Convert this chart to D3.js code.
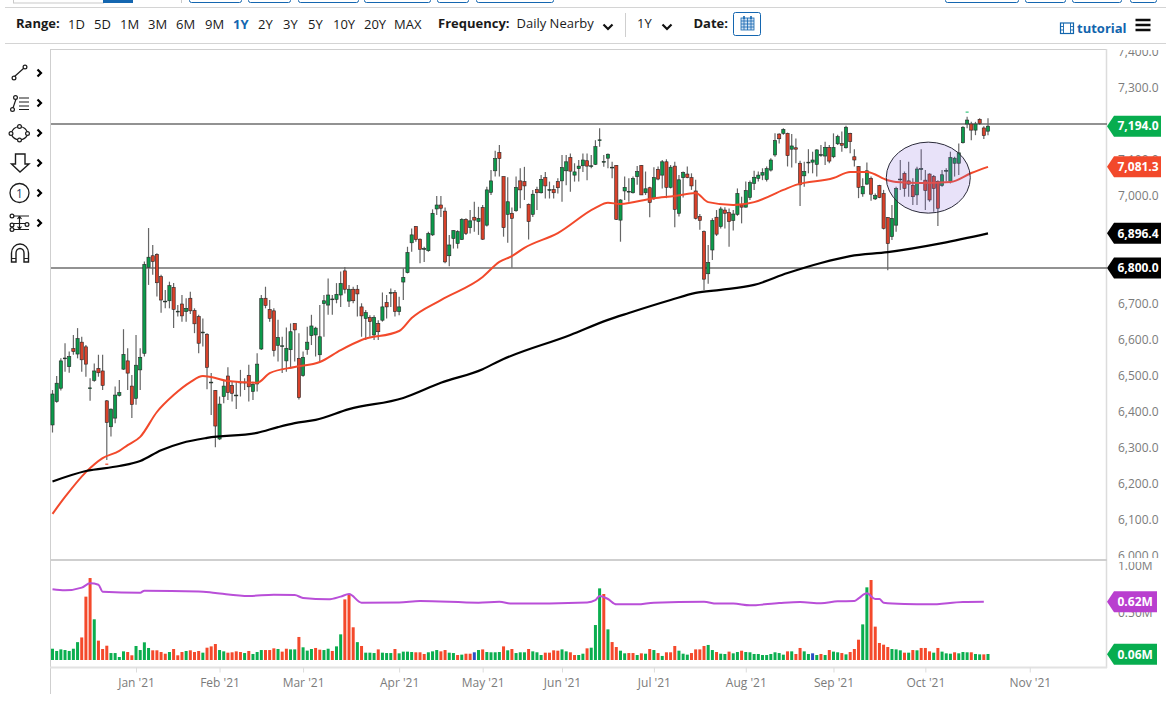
<!DOCTYPE html>
<html>
<head>
<meta charset="utf-8">
<script src="https://cdn.jsdelivr.net/npm/d3@7"></script>
<style>
  html, body { margin: 0; padding: 0; background: #fff; overflow: hidden; }
  svg { display: block; }
  text { font-family: "Open Sans", sans-serif; }
  .axis text { fill: #7b7b7b; font-size: 12px; font-family: "Open Sans", sans-serif; }
  .bar-label { font-size: 13px; fill: #1a1a1a; }
  .bold { font-weight: 700; }
</style>
</head>
<body>
<div id="chart"></div>
<script>
// --- OHLC, one value per session ---
const opens = [
  6364,6429,6466,6548,6526,6576,6561,6594,6581,6465,
  6488,6521,6514,6431,6359,6383,6446,6519,6542,6472,
  6438,6517,6563,6802,6834,6838,6776,6706,6709,6746,
  6678,6700,6679,6716,6682,6665,6620,6616,6481,6460,
  6325,6443,6500,6474,6445,6481,6481,6502,6457,6478,
  6575,6716,6685,6681,6585,6582,6542,6573,6646,6549,
  6501,6574,6612,6614,6559,6701,6697,6712,6713,6725,
  6792,6708,6741,6741,6692,6660,6663,6614,6646,6655,
  6704,6730,6732,6679,6761,6787,6870,6915,6880,6852,
  6848,6892,6964,6975,6958,6834,6882,6868,6879,6935,
  6912,6941,6929,6968,6919,7010,7070,7121,7054,6949,
  6952,6959,7042,7040,6977,6949,7018,7009,7051,7016,
  7018,7040,7042,7070,7107,7058,7076,7084,7098,7082,
  7088,7154,7094,7105,7078,7085,6933,7014,7011,7009,
  7054,7085,7009,7023,6994,7074,7058,7095,7024,7083,
  6952,7051,7061,7051,7014,6943,6901,6784,6850,6941,
  6915,6961,6954,6932,6949,6975,6969,6996,7035,7049,
  7058,7046,7072,7114,7172,7174,7174,7130,7134,7091,
  7056,7092,7094,7088,7113,7111,7135,7109,7145,7146,
  7134,7174,7109,7082,7006,7033,7049,6992,7029,7007,
  6940,6887,6919,7045,7063,7042,7030,7003,7074,7044,
  7061,7054,7040,7029,7069,7040,7091,7091,7148,7200,
  7200,7183,7213,7189,7180
];
const highs = [
  6461,6500,6549,6591,6568,6614,6633,6609,6586,6494,
  6535,6559,6559,6433,6410,6471,6489,6630,6577,6503,
  6614,6577,6818,6911,6864,6841,6781,6739,6762,6758,
  6697,6725,6716,6734,6688,6670,6660,6619,6508,6461,
  6443,6489,6524,6484,6484,6517,6494,6531,6484,6563,
  6725,6748,6711,6688,6656,6609,6635,6646,6646,6619,
  6568,6637,6670,6637,6697,6725,6771,6725,6758,6790,
  6803,6753,6748,6753,6702,6683,6669,6669,6655,6732,
  6725,6743,6739,6720,6799,6859,6910,6917,6882,6859,
  6901,6963,7000,7000,6968,6892,6905,6905,6938,6938,
  6961,6984,6970,6975,7026,7072,7126,7142,7054,7052,
  6968,7054,7077,7081,6979,7017,7026,7058,7067,7040,
  7030,7049,7114,7114,7118,7091,7100,7118,7118,7114,
  7155,7188,7114,7118,7095,7086,6991,7054,7049,7054,
  7083,7086,7068,7026,7080,7082,7100,7102,7086,7095,
  7058,7068,7082,7063,7045,6950,6904,6864,6938,6961,
  6970,6969,6965,6961,7021,6998,7040,7043,7070,7068,
  7077,7082,7105,7174,7174,7188,7176,7172,7160,7098,
  7095,7130,7123,7130,7142,7151,7142,7174,7170,7179,
  7195,7176,7130,7083,7049,7093,7054,7007,7031,7017,
  6942,6975,7026,7100,7068,7095,7049,7081,7130,7072,
  7063,7058,7044,7072,7077,7123,7109,7146,7194,7220,
  7206,7206,7216,7194,7216
];
const lows = [
  6343,6426,6460,6512,6509,6559,6549,6512,6498,6431,
  6484,6498,6461,6267,6332,6369,6443,6517,6461,6383,
  6420,6461,6554,6753,6781,6721,6676,6688,6688,6633,
  6665,6651,6651,6672,6619,6563,6582,6463,6392,6302,
  6322,6424,6433,6429,6408,6443,6461,6429,6433,6457,
  6572,6688,6651,6554,6540,6508,6512,6521,6540,6435,
  6498,6559,6586,6554,6540,6609,6670,6670,6702,6692,
  6729,6692,6702,6665,6609,6600,6609,6600,6600,6651,
  6660,6692,6665,6669,6711,6785,6845,6873,6813,6817,
  6845,6889,6947,6942,6813,6805,6854,6854,6878,6892,
  6896,6901,6892,6878,6915,7003,7054,7054,6887,6870,
  6801,6956,6966,6989,6879,6942,6961,7007,6993,6993,
  6993,7007,6984,7030,7012,7040,7040,7067,7044,7077,
  7086,7137,7081,7077,7049,6933,6873,6989,6984,7007,
  7031,7003,7003,6941,6989,7044,7021,6994,7021,6913,
  6943,6996,7049,7017,6935,6906,6739,6756,6822,6889,
  6910,6910,6859,6904,6945,6924,6968,6989,7017,7040,
  7044,7040,7068,7109,7146,7170,7082,7079,7091,6972,
  7026,7063,7063,7054,7109,7086,7091,7105,7142,7123,
  7132,7119,7082,6994,6998,7031,6987,6989,6994,6907,
  6794,6878,6901,7017,6998,6998,6975,6975,7044,6961,
  6984,6956,6917,7026,7040,7035,7054,7058,7146,7188,
  7155,7169,7197,7158,7169
];
const closes = [
  6450,6480,6542,6550,6554,6568,6604,6545,6533,6467,
  6514,6509,6474,6371,6408,6447,6454,6560,6508,6421,
  6530,6552,6810,6830,6818,6759,6711,6708,6751,6685,
  6680,6667,6688,6681,6645,6591,6622,6524,6483,6361,
  6422,6472,6454,6452,6447,6483,6483,6470,6477,6533,
  6715,6696,6660,6571,6607,6584,6577,6623,6628,6440,
  6552,6594,6639,6633,6609,6709,6725,6714,6727,6757,
  6741,6741,6709,6728,6667,6676,6651,6663,6623,6692,
  6692,6732,6679,6692,6774,6843,6892,6879,6852,6854,
  6896,6952,6975,6966,6817,6864,6904,6901,6935,6896,
  6931,6933,6938,6880,7017,7042,7104,7104,6912,6984,
  6938,7024,7017,7028,6929,7005,7009,7046,7028,7018,
  7009,7023,7079,7095,7069,7067,7083,7100,7083,7084,
  7137,7156,7096,7116,7080,6935,6989,7024,7013,7049,
  7068,7003,7020,6982,7051,7047,7095,7024,7080,6963,
  7045,7065,7051,7028,6938,6932,6769,6815,6932,6894,
  6964,6952,6929,6950,7007,6969,7015,7037,7052,7058,
  7065,7076,7100,7154,7159,7185,7112,7139,7130,7031,
  7068,7094,7100,7128,7115,7135,7097,7135,7165,7141,
  7191,7151,7100,7024,7026,7070,7005,7001,6996,6910,
  6868,6938,7021,7047,7021,7033,6998,7075,7076,7015,
  6989,7021,6966,7059,7071,7107,7105,7120,7191,7211,
  7183,7200,7202,7168,7194
];

// volume in millions, and bar colour g / r / b per session
const volumes = [
  .12,.096,.113,.106,.096,.12,.19,.24,.674,.872,
  .433,.206,.117,.152,.074,.074,.032,.092,.085,.05,
  .149,.106,.188,.128,.103,.103,.085,.067,.085,.117,
  .05,.085,.096,.103,.085,.096,.078,.131,.145,.17,
  .106,.092,.078,.082,.092,.085,.074,.096,.064,.085,
  .106,.106,.106,.124,.117,.089,.12,.113,.113,.245,
  .135,.1,.117,.128,.11,.106,.12,.096,.145,.273,
  .645,.695,.348,.19,.149,.078,.078,.074,.113,.078,
  .074,.074,.117,.071,.089,.089,.085,.082,.082,.064,
  .082,.092,.106,.092,.106,.078,.074,.053,.057,.067,
  .067,.082,.106,.113,.085,.082,.082,.085,.145,.103,
  .117,.074,.082,.082,.117,.092,.082,.053,.078,.078,
  .103,.099,.113,.092,.082,.053,.053,.067,.124,.131,
  .372,.762,.702,.326,.191,.138,.099,.071,.074,.074,
  .053,.071,.067,.117,.106,.074,.043,.082,.082,.149,
  .099,.067,.057,.074,.113,.113,.149,.16,.106,.085,
  .067,.064,.089,.071,.085,.099,.085,.082,.064,.064,
  .053,.053,.064,.082,.074,.057,.092,.092,.064,.128,
  .092,.064,.071,.053,.064,.053,.106,.089,.082,.074,
  .06,.085,.117,.216,.379,.773,.851,.355,.181,.163,
  .138,.117,.113,.103,.078,.078,.106,.103,.128,.128,
  .092,.078,.128,.089,.071,.067,.082,.071,.085,.082,
  .082,.064,.06,.06,.064
];
const volumeDirs = (
  "gggggggrrr" + "grrrggggrr" + "ggggrrrrgr" + "rrgrrrgrrr" + "ggrrrrgrgg" +
  "grrrgrrggr" + "gggrrggrgg" + "rrrgrgggrg" + "ggrg" + "gggrrr" +
  "gggrrggrgr" + "rbgrggggrg" + "rgggrgggrr" + "rrggrrggrg" + "ggrgrrggrr" +
  "grgrgrgrrr" + "gggrrrrggr" + "ggrggrgggg" + "ggggggrgrr" +
  "ggbgrgrggr" + "grrrggrrrr" + "rgggrgrgrr" + "rgrgggrggg" + "rggrg"
).split("");

// moving averages, read at these sessions
const ma50Sessions = [0,3,8,12,16,18,21,25,29,33,36,38,42,49,52,58,64,69,74,83,86,93,103,107,110,113,121,130,133,136,144,149,154,157,163,168,175,178,187,191,195,200,202,208,215,220,224];
const ma50Values = [6117,6164,6233,6272,6292,6308,6331,6400,6447,6483,6500,6497,6486,6481,6508,6525,6539,6572,6600,6625,6661,6711,6775,6817,6833,6856,6897,6967,6981,6978,6994,7000,7008,6983,6975,6983,7017,7031,7050,7067,7067,7044,7039,7036,7039,7064,7081];
const ma200Sessions = [0,8,16,21,26,31,37,49,54,58,63,71,84,93,103,107,124,133,138,148,154,160,168,176,184,191,200,213,224];
const ma200Values = [6207,6236,6250,6264,6294,6314,6328,6342,6358,6369,6378,6408,6439,6481,6519,6542,6614,6656,6675,6711,6731,6739,6753,6786,6814,6833,6844,6869,6896];
const volMaSessions = [0,3,7,9,11,12,21,22,35,39,47,53,58,60,66,69,71,74,83,88,102,107,110,128,130,131,133,135,140,144,156,159,163,167,174,179,184,188,192,193,195,197,198,199,204,210,218,223];
const volMaValues = [.752,.741,.77,.816,.801,.727,.716,.738,.73,.713,.681,.695,.691,.66,.645,.674,.702,.61,.613,.628,.61,.62,.6,.613,.638,.681,.649,.592,.592,.61,.62,.6,.6,.582,.606,.617,.603,.624,.628,.656,.709,.649,.649,.61,.596,.592,.617,.62];

// axes
const priceTicks = [7400,7300,7200,7100,7000,6900,6800,6700,6600,6500,6400,6300,6200,6100,6000];
const volumeTicks = [1, 0.5];
const monthSessions = [20,40,60,83,103,122,144,166,187,209,234];
const monthLabels = ["Jan '21","Feb '21","Mar '21","Apr '21","May '21","Jun '21","Jul '21","Aug '21","Sep '21","Oct '21","Nov '21"];

// drawn annotations
const levelPrices = [7200, 6800];
const circleSession = 209.7, circlePrice = 7051;
const priceTags = [[7194, "7,194.0", "#07ad4f"], [7081.3, "7,081.3", "#f2492b"], [6896.4, "6,896.4", "#000"], [6800, "6,800.0", "#000"]];
const volumeTags = [[0.62, "0.62M", "#b93fcf"], [0.06, "0.06M", "#07ad4f"]];

const W = 1166, H = 704;
const x = d3.scaleLinear().domain([0, 224]).range([52.5, 988]);
const y = d3.scaleLinear().domain([6000, 7400]).range([556, 52]);
const v = d3.scaleLinear().domain([0, 1]).range([660, 566]);

const svg = d3.select("#chart").append("svg").attr("width", W).attr("height", H);
const defs = svg.append("defs");
defs.append("clipPath").attr("id", "pricePane").append("rect").attr("x", 0).attr("y", 50).attr("width", W).attr("height", 508);
defs.append("clipPath").attr("id", "volPane").append("rect").attr("x", 0).attr("y", 562).attr("width", W).attr("height", 110);

// --- frame ---
const frame = svg.append("g").attr("stroke", "#cfcfcf").attr("fill", "none");
frame.append("path").attr("d", "M50.5,49.5H1107").attr("stroke-width", 1);
frame.append("path").attr("d", "M50.5,49V694").attr("stroke-width", 1);
frame.append("path").attr("d", "M1106.5,49V668").attr("stroke", "#dcdcdc").attr("stroke-width", 1.5);
frame.append("path").attr("d", "M50,560H1107").attr("stroke-width", 2);

// --- axes ---
const priceAxis = svg.append("g").attr("class", "axis").attr("clip-path", "url(#pricePane)")
  .append("g").attr("transform", "translate(1107,0)")
  .call(d3.axisRight(y).tickValues(priceTicks).tickSize(0).tickPadding(11).tickFormat(d3.format(",.1f")));
priceAxis.select(".domain").remove();

const volAxis = svg.append("g").attr("class", "axis").attr("clip-path", "url(#volPane)")
  .append("g").attr("transform", "translate(1107,0)")
  .call(d3.axisRight(v).tickValues(volumeTicks).tickSize(0).tickPadding(11).tickFormat(d => d.toFixed(2) + "M"));
volAxis.select(".domain").remove();

const timeAxis = svg.append("g").attr("class", "axis").attr("transform", "translate(0,667.5)")
  .call(d3.axisBottom(x).tickValues(monthSessions).tickSize(5).tickPadding(6).tickFormat((d, i) => monthLabels[i]));
timeAxis.select(".domain").attr("d", "M50,0H1107").attr("stroke", "#e2e2e2").attr("stroke-width", 2);
timeAxis.selectAll(".tick line").attr("stroke", "#dcdcdc");

// --- price pane ---
const pane = svg.append("g").attr("clip-path", "url(#pricePane)");

pane.selectAll(".level").data(levelPrices).enter().append("line")
  .attr("class", "level")
  .attr("x1", 51).attr("x2", 1107)
  .attr("y1", d => y(d)).attr("y2", d => y(d))
  .attr("stroke", "#6e6e6e").attr("stroke-width", 1.5);

const lineThrough = (scale, sessions) => d3.line()
  .x((d, i) => x(sessions[i]))
  .y(d => scale(d))
  .curve(d3.curveMonotoneX);

const sessions = d3.range(opens.length);

pane.selectAll(".wick").data(sessions).enter().append("line")
  .attr("class", "wick")
  .attr("x1", i => x(i)).attr("x2", i => x(i))
  .attr("y1", i => y(highs[i])).attr("y2", i => y(lows[i]))
  .attr("stroke", "#666").attr("stroke-width", 1.2);

pane.selectAll(".body").data(sessions).enter().append("rect")
  .attr("class", "body")
  .attr("x", i => x(i) - 1.6).attr("width", 3.2)
  .attr("y", i => y(Math.max(opens[i], closes[i])))
  .attr("height", i => Math.max(0.8, Math.abs(y(opens[i]) - y(closes[i]))))
  .attr("fill", i => closes[i] >= opens[i] ? "#0c9a4b" : "#d8412a")
  .attr("stroke", "#262626").attr("stroke-width", 0.6);

pane.append("path").datum(ma50Values)
  .attr("d", lineThrough(y, ma50Sessions))
  .attr("fill", "none").attr("stroke", "#f2492b").attr("stroke-width", 2);
pane.append("path").datum(ma200Values)
  .attr("d", lineThrough(y, ma200Sessions))
  .attr("fill", "none").attr("stroke", "#000").attr("stroke-width", 2.2);

pane.append("ellipse")
  .attr("cx", x(circleSession)).attr("cy", y(circlePrice))
  .attr("rx", 42).attr("ry", 35.5)
  .attr("fill", "#8a6fe0").attr("fill-opacity", 0.2)
  .attr("stroke", "#2b2b3a").attr("stroke-width", 1);

// tiny high / low markers on the extremes of the shown range
pane.append("line").attr("x1", x(219) - 1.5).attr("x2", x(219) + 1.5).attr("y1", y(7233)).attr("y2", y(7233)).attr("stroke", "#35c47c").attr("stroke-width", 1.2);
pane.append("line").attr("x1", x(13) - 1.5).attr("x2", x(13) + 1.5).attr("y1", y(6255)).attr("y2", y(6255)).attr("stroke", "#f2492b").attr("stroke-width", 1.2);

// --- volume pane ---
const volColor = { g: "#0bae4f", r: "#f4492b", b: "#2b4fc4" };
svg.append("g").selectAll("rect").data(volumes).enter().append("rect")
  .attr("x", (d, i) => x(i) - 1.5).attr("width", 3)
  .attr("y", d => v(d)).attr("height", d => v(0) - v(d))
  .attr("fill", (d, i) => volColor[volumeDirs[i]]);

svg.append("path").datum(volMaValues)
  .attr("d", lineThrough(v, volMaSessions))
  .attr("fill", "none").attr("stroke", "#b94fd8").attr("stroke-width", 2);

// --- value tags on the right axis ---
function drawTag(cy, label, color, right) {
  const g = svg.append("g").attr("transform", `translate(0,${cy})`);
  g.append("path")
    .attr("d", `M1107,0L1114,-10.5H${right}V10.5H1114Z`)
    .attr("fill", color);
  g.append("text").attr("x", 1117.5).attr("y", 0).attr("dy", "0.36em")
    .attr("fill", "#fff").attr("font-size", 12).attr("font-weight", 700).text(label);
}
priceTags.forEach(t => drawTag(y(t[0]), t[1], t[2], 1161));
volumeTags.forEach(t => drawTag(v(t[0]), t[1], t[2], 1157));

// --- top bar ---
const bar = svg.append("g");
bar.append("path").attr("d", "M5,7.5H1166M5,43.5H1166").attr("stroke", "#d4d4d4").attr("stroke-width", 1).attr("fill", "none");

// buttons cut off by the top of the window
bar.append("rect").attr("x", 13.5).attr("y", -10).attr("width", 90).attr("height", 13).attr("fill", "#fff").attr("stroke", "#c9c9c9");
bar.append("rect").attr("x", 103).attr("y", -10).attr("width", 30).attr("height", 13).attr("fill", "#1466b0");
bar.append("path").attr("d", "M181.5,0V3").attr("stroke", "#c9c9c9");
[[189, 52], [248, 42], [298, 60], [364, 66], [437, 31], [476, 77], [945, 73], [1025, 40], [1072, 49], [1130, 26]].forEach(b => {
  bar.append("rect").attr("x", b[0] + 0.5).attr("y", -10).attr("width", b[1]).attr("height", 12.5)
    .attr("rx", 2).attr("fill", "#fff").attr("stroke", "#1466b0");
});

const rangeLabels = ["1D","5D","1M","3M","6M","9M","1Y","2Y","3Y","5Y","10Y","20Y","MAX"];
const rangeLeft = [68,94,120,148,176,205,233,258,283,308,333,364,394];
bar.append("text").attr("class", "bar-label bold").attr("x", 16).attr("y", 28).text("Range:");
bar.selectAll(".range").data(rangeLabels).enter().append("text")
  .attr("class", d => d === "1Y" ? "range bar-label bold" : "range bar-label")
  .attr("x", (d, i) => rangeLeft[i]).attr("y", 28.5)
  .style("fill", d => d === "1Y" ? "#1466b0" : null)
  .attr("font-size", 13).text(d => d);

bar.append("text").attr("class", "bar-label bold").attr("x", 438).attr("y", 28).text("Frequency:");
bar.append("text").attr("class", "bar-label").attr("x", 516.5).attr("y", 28).text("Daily Nearby");
bar.append("path").attr("d", "M625.5,13V37").attr("stroke", "#cfcfcf");
bar.append("text").attr("class", "bar-label").attr("x", 637).attr("y", 28).text("1Y");
bar.append("text").attr("class", "bar-label bold").attr("x", 693.5).attr("y", 28).text("Date:");
[608, 667].forEach(cx => {
  bar.append("path").attr("d", `M${cx - 4.5},24.5L${cx},29L${cx + 4.5},24.5`).attr("fill", "none").attr("stroke", "#111").attr("stroke-width", 2.2);
});

// calendar button
bar.append("rect").attr("x", 733.5).attr("y", 12.5).attr("width", 27).attr("height", 23).attr("rx", 2).attr("fill", "#fff").attr("stroke", "#1466b0");
const cal = bar.append("g").attr("fill", "none").attr("stroke", "#1466b0").attr("stroke-width", 0.8);
cal.append("rect").attr("x", 741).attr("y", 18).attr("width", 13).attr("height", 12).attr("fill", "#cfe2f3");
cal.append("path").attr("d", "M741,21H754M741,24H754M741,27H754M744,18V30M747.5,18V30M751,18V30");
cal.append("path").attr("d", "M744,16V19M751,16V19").attr("stroke-width", 1.6);

// tutorial link and menu
const film = bar.append("g").attr("fill", "none").attr("stroke", "#1265ad");
film.append("rect").attr("x", 1060.5).attr("y", 23).attr("width", 13).attr("height", 10.5).attr("stroke-width", 1.2);
film.append("path").attr("d", "M1063.5,23V33.5M1070.5,23V33.5M1060.5,26.5H1063.5M1060.5,30H1063.5M1070.5,26.5H1073.5M1070.5,30H1073.5").attr("stroke-width", 0.9);
bar.append("text").attr("x", 1077).attr("y", 33).attr("fill", "#1265ad").attr("font-size", 13).attr("font-weight", 700).text("tutorial");
bar.append("path").attr("d", "M1135.5,20H1150.5M1135.5,25H1150.5M1135.5,30H1150.5").attr("stroke", "#0c0c0c").attr("stroke-width", 2.6);

// --- drawing tools on the left ---
const tools = svg.append("g").attr("fill", "none").attr("stroke", "#1c1c1c").attr("stroke-width", 1.2);
const dot = (cx, cy) => tools.append("circle").attr("cx", cx).attr("cy", cy).attr("r", 1.9).attr("fill", "#fff");
tools.append("path").attr("d", "M14,77L24,68");
dot(14, 78); dot(25, 67);
tools.append("path").attr("d", "M13,108L16,99");
tools.append("path").attr("d", "M19,98H29M19,102H29M19,106H29M19,109.5H29");
dot(12.5, 109.5); dot(15.5, 97.5);
tools.append("path").attr("d", "M11,133.5Q13,127 19.5,126.5Q26,127 28,133.5Q26,139.5 19.5,140Q13,139.5 11,133.5Z");
dot(11, 133.5); dot(19.5, 126.5); dot(27.5, 133.5); dot(19.5, 140);
tools.append("path").attr("d", "M15.5,154H25V164H29L20,172L11.5,164H15.5Z").attr("stroke-width", 1.4);
tools.append("circle").attr("cx", 19.5).attr("cy", 193).attr("r", 9.5).attr("stroke-width", 1.3);
tools.append("text").attr("x", 19.5).attr("y", 197.5).attr("text-anchor", "middle").attr("font-size", 12)
  .attr("fill", "#1b3a5c").attr("stroke", "none").text("1");
tools.append("path").attr("d", "M10,216H29M10,223.5H29M10,229.5H29M19.5,217V229M17.5,219L19.5,216.5L21.5,219M17.5,226.5L19.5,229L21.5,226.5");
dot(12, 216); dot(12, 225); dot(27, 224.5); dot(12, 229.5);
tools.append("path").attr("d", "M11.5,262V253A8.5,9 0 0 1 28.5,253V262H24V253A4,4.5 0 0 0 16,253V262Z").attr("stroke-width", 1.4);
tools.append("path").attr("d", "M11.5,258.5H16M24,258.5H28.5").attr("stroke-width", 1.2);
[73, 103, 133, 163, 193, 223].forEach(cy => {
  tools.append("path").attr("d", `M37.5,${cy - 3.5}L41,${cy}L37.5,${cy + 3.5}`).attr("stroke", "#000").attr("stroke-width", 2.2);
});
</script>
</body>
</html>
